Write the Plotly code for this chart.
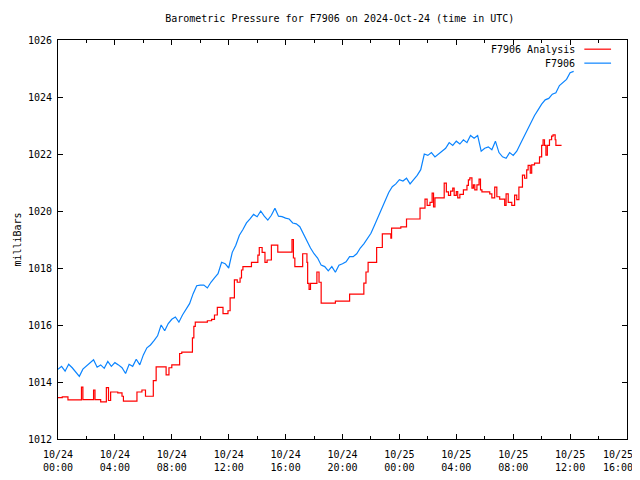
import plotly.graph_objects as go

# ---------------- data ----------------
# F7906 observed pressure, every 15 minutes from 2024-10-24 00:00 UTC (hours since start)
obs_step_hours = 0.25
obs_values = [
    1014.45, 1014.55, 1014.38, 1014.62, 1014.50, 1014.35, 1014.20, 1014.45,
    1014.55, 1014.65, 1014.78, 1014.52, 1014.60, 1014.48, 1014.72, 1014.55,
    1014.68, 1014.60, 1014.50, 1014.30, 1014.62, 1014.55, 1014.80, 1014.60,
    1014.95, 1015.20, 1015.30, 1015.45, 1015.62, 1016.00, 1015.80, 1016.05,
    1016.20, 1016.28, 1016.10, 1016.35, 1016.55, 1016.75, 1017.10, 1017.38,
    1017.40, 1017.40, 1017.30, 1017.50, 1017.65, 1017.80, 1018.20, 1018.15,
    1018.00, 1018.55, 1018.80, 1019.15, 1019.35, 1019.58, 1019.72, 1019.88,
    1019.80, 1020.00, 1019.82, 1019.68, 1019.85, 1020.10, 1019.82, 1019.80,
    1019.75, 1019.72, 1019.58, 1019.55, 1019.45, 1019.20, 1018.92, 1018.70,
    1018.50, 1018.35, 1018.10, 1018.05, 1017.90, 1018.05, 1017.85, 1018.10,
    1018.15, 1018.22, 1018.40, 1018.40, 1018.50, 1018.70, 1018.85, 1019.05,
    1019.22, 1019.50, 1019.80, 1020.10, 1020.40, 1020.65, 1020.85, 1020.95,
    1021.10, 1021.05, 1021.15, 1020.95, 1021.10, 1021.25, 1021.45, 1022.00,
    1021.95, 1022.05, 1021.90, 1022.00, 1022.10, 1022.20, 1022.40, 1022.30,
    1022.45, 1022.35, 1022.50, 1022.40, 1022.65, 1022.55, 1022.65, 1022.10,
    1022.20, 1022.25, 1022.15, 1022.45, 1022.05, 1021.90, 1021.85, 1022.05,
    1021.95, 1022.10, 1022.35, 1022.60, 1022.90, 1023.10, 1023.35, 1023.55,
    1023.75, 1023.90, 1023.95, 1024.10, 1024.15, 1024.40, 1024.50, 1024.62,
    1024.85, 1024.90,
]
obs_hours = [i * obs_step_hours for i in range(len(obs_values))]

# F7906 Analysis (step-wise), change times in hours since start
ana_hours = [
    0.0, 0.3, 0.7, 1.65, 1.75, 2.5, 2.6, 3.0, 3.4, 3.55, 3.7, 4.2, 4.5, 4.6,
    5.55, 5.9, 6.15, 6.7, 6.9, 7.6, 7.8, 8.0, 8.55, 8.7, 9.45, 9.55, 9.65,
    10.5, 10.8, 11.0, 11.2, 11.6, 11.95, 12.1, 12.4, 12.6, 12.8, 12.9, 13.0,
    13.6, 14.05, 14.15, 14.35, 14.55, 14.7, 15.0, 15.45, 16.45, 16.55, 16.65,
    17.2, 17.5, 17.55, 17.65, 17.75, 18.2, 18.35, 18.5, 19.5, 20.5, 21.5,
    21.65, 21.8, 22.4, 22.8, 23.4, 23.45, 24.1, 24.5, 25.45, 25.8, 25.95,
    26.15, 26.3, 26.4, 26.5, 27.15, 27.3, 27.45, 27.6, 27.75, 27.85, 28.0,
    28.1, 28.25, 28.5, 28.75, 28.85, 28.95, 29.1, 29.2, 29.3, 29.45, 29.6,
    29.7, 29.8, 30.35, 30.5, 30.7, 30.85, 31.05, 31.4, 31.5, 31.65, 31.9,
    32.1, 32.25, 32.4, 32.65, 32.8, 32.95, 33.05, 33.2, 33.3, 33.5, 33.85,
    34.0, 34.1, 34.2, 34.3, 34.4, 34.55, 34.7, 34.8, 34.95, 35.0, 35.4,
]
ana_values = [
    1013.45, 1013.48, 1013.37, 1013.82, 1013.38, 1013.72, 1013.38, 1013.30,
    1013.80, 1013.35, 1013.65, 1013.62, 1013.50, 1013.33, 1013.65, 1013.72,
    1013.50, 1014.05, 1014.53, 1014.25, 1014.50, 1014.60, 1015.00, 1015.05,
    1015.55, 1015.95, 1016.10, 1016.15, 1016.20, 1016.35, 1016.62, 1016.40,
    1016.50, 1016.95, 1017.58, 1017.50, 1017.65, 1017.93, 1018.05, 1018.20,
    1018.45, 1018.72, 1018.55, 1018.20, 1018.28, 1018.80, 1018.56, 1019.00,
    1018.35, 1018.05, 1018.50, 1018.20, 1017.46, 1017.25, 1017.46, 1017.86,
    1017.50, 1016.77, 1016.84, 1017.08, 1017.47, 1017.86, 1018.20, 1018.72,
    1019.20, 1019.05, 1019.40, 1019.44, 1019.72, 1020.10, 1020.42, 1020.20,
    1020.30, 1020.63, 1020.14, 1020.46, 1020.98, 1020.67, 1020.55, 1020.70,
    1020.80, 1020.55, 1020.68, 1020.46, 1020.58, 1020.74, 1020.90, 1021.09,
    1021.16, 1020.80, 1020.92, 1020.74, 1020.92, 1021.12, 1020.74, 1020.67,
    1020.60, 1020.46, 1020.84, 1020.50, 1020.42, 1020.20, 1020.60, 1020.30,
    1020.20, 1020.56, 1020.40, 1020.84, 1021.26, 1021.15, 1021.44, 1021.60,
    1021.33, 1021.62, 1021.68, 1021.90, 1022.30, 1022.50, 1022.30, 1021.96,
    1022.30, 1022.50, 1022.63, 1022.67, 1022.50, 1022.30, 1022.30,
]

x_tick_hours = [0, 4, 8, 12, 16, 20, 24, 28, 32, 36, 40]
x_tick_labels = [
    "10/24<br>00:00", "10/24<br>04:00", "10/24<br>08:00", "10/24<br>12:00",
    "10/24<br>16:00", "10/24<br>20:00", "10/25<br>00:00", "10/25<br>04:00",
    "10/25<br>08:00", "10/25<br>12:00", "10/25<br>16:00",
]
y_tick_values = [1012, 1014, 1016, 1018, 1020, 1022, 1024, 1026]

series_names = ["F7906 Analysis", "F7906"]
series_colors = ["#ff0000", "#0a84ff"]

# ---------------- figure ----------------
FONT = "DejaVu Sans Mono"
TICKFONT = dict(family=FONT, size=10, color="black")

# the last tick label sits at the canvas edge: draw it as an annotation nudged left
shown_x_labels = list(x_tick_labels[:-1]) + [""]

fig = go.Figure()
fig.add_trace(go.Scatter(
    x=ana_hours, y=ana_values, mode="lines", name=series_names[0],
    line=dict(color=series_colors[0], width=1.2, shape="hv"),
    showlegend=False,
))
fig.add_trace(go.Scatter(
    x=obs_hours, y=obs_values, mode="lines", name=series_names[1],
    line=dict(color=series_colors[1], width=1.2, shape="linear"),
    showlegend=False,
))

axis_common = dict(
    showgrid=False, zeroline=False, showline=True, linecolor="black",
    linewidth=1, mirror="allticks", ticks="inside", tickcolor="black",
    tickfont=TICKFONT, automargin=False, ticklabeloverflow="allow",
)

fig.update_xaxes(
    range=[0, 40], tickmode="array", tickvals=x_tick_hours,
    ticktext=shown_x_labels, ticklen=5, ticklabelstandoff=6,
    minor=dict(dtick=2, tick0=0, ticks="inside", ticklen=3, tickcolor="black"),
    **axis_common,
)
fig.update_yaxes(
    range=[1012, 1026], tickmode="array", tickvals=y_tick_values,
    ticktext=[str(v) for v in y_tick_values], ticklen=5, ticklabelstandoff=3,
    title=dict(text="milliBars", font=TICKFONT, standoff=4),
    **axis_common,
)

fig.add_annotation(
    xref="x", yref="paper", x=x_tick_hours[-1], y=0, text=x_tick_labels[-1],
    showarrow=False, xanchor="right", yanchor="top", xshift=7, yshift=-9,
    align="center", font=TICKFONT, borderpad=0,
)

# gnuplot-style legend (text right-aligned, line sample to the right)
legend_rows_y = [0.977, 0.942]
for name, color, yy in zip(series_names, series_colors, legend_rows_y):
    fig.add_annotation(
        xref="paper", yref="paper", x=0.912, y=yy, text=name,
        showarrow=False, xanchor="right", yanchor="middle",
        font=TICKFONT,
    )
    fig.add_shape(
        type="line", xref="paper", yref="paper", x0=0.925, x1=0.972,
        y0=yy, y1=yy, line=dict(color=color, width=1.2),
    )

fig.update_layout(
    width=632, height=472,
    margin=dict(l=50, r=13, t=32, b=41, autoexpand=False),
    paper_bgcolor="white", plot_bgcolor="white",
    title=dict(
        text="Barometric Pressure for F7906 on 2024-Oct-24 (time in UTC)",
        font=TICKFONT,
        x=0.525, xanchor="center", y=0.977, yanchor="middle",
    ),
)

fig.write_html("out.html")
